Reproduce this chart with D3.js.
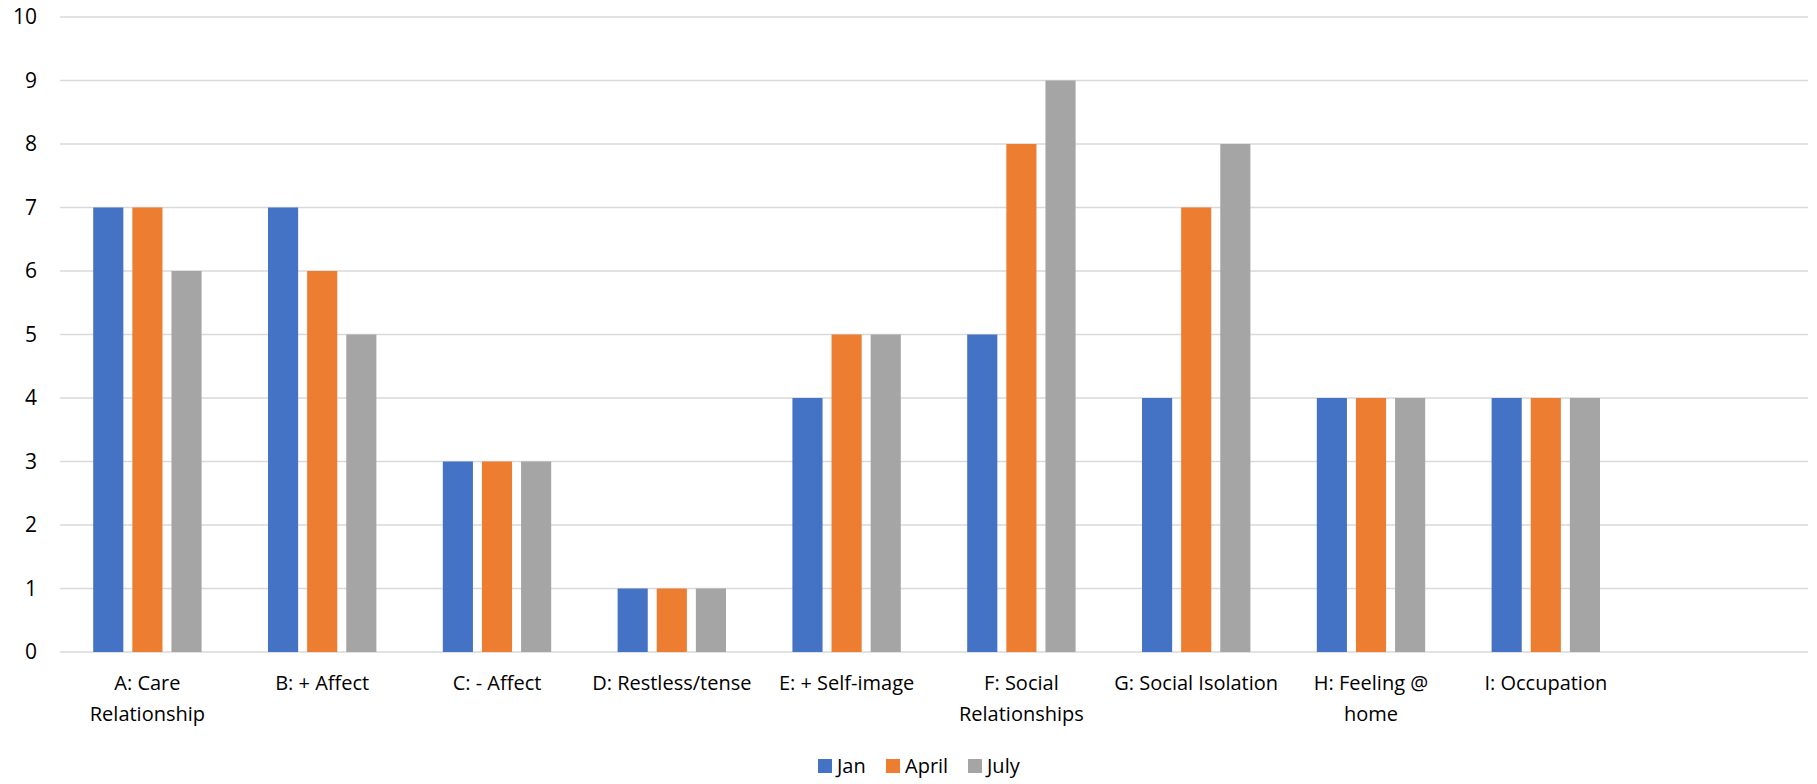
<!DOCTYPE html>
<html>
<head>
<meta charset="utf-8">
<script src="https://cdn.jsdelivr.net/npm/d3@7"></script>
<style>
  body { margin: 0; background: #fff; }
  text { font-family: "Open Sans", "Noto Sans", sans-serif; fill: #000; }
</style>
</head>
<body>
<svg width="1817" height="784"></svg>
<script>
// categories (one empty slot at the end, as in the original)
const categories = ["A", "B", "C", "D", "E", "F", "G", "H", "I", ""];
const categoryLabels = [
  ["A: Care", "Relationship"],
  ["B: + Affect"],
  ["C: - Affect"],
  ["D: Restless/tense"],
  ["E: + Self-image"],
  ["F: Social", "Relationships"],
  ["G: Social Isolation"],
  ["H: Feeling @", "home"],
  ["I: Occupation"],
  []
];
const seriesNames = ["Jan", "April", "July"];
const jan = [7, 7, 3, 1, 4, 5, 4, 4, 4];
const april = [7, 6, 3, 1, 5, 8, 7, 4, 4];
const july = [6, 5, 3, 1, 5, 9, 8, 4, 4];
const yTicks = [0, 1, 2, 3, 4, 5, 6, 7, 8, 9, 10];
const colors = ["#4472C4", "#ED7D31", "#A5A5A5"];

const series = [jan, april, july];

const svg = d3.select("svg");
const margin = { left: 60, right: 9, top: 17, bottom: 132 };
const width = +svg.attr("width");
const height = +svg.attr("height");

const x = d3.scaleBand()
  .domain(categories)
  .range([margin.left, width - margin.right])
  .paddingInner(0.38)
  .paddingOuter(0.19);

const x1 = d3.scaleBand()
  .domain(seriesNames)
  .range([0, x.bandwidth()])
  .paddingInner(0.23)
  .paddingOuter(0);

const y = d3.scaleLinear()
  .domain([0, 10])
  .range([height - margin.bottom, margin.top]);

// gridlines
svg.append("g")
  .selectAll("line")
  .data(yTicks)
  .enter().append("line")
  .attr("x1", margin.left)
  .attr("x2", width - margin.right)
  .attr("y1", d => y(d))
  .attr("y2", d => y(d))
  .style("stroke", "#d9d9d9")
  .style("stroke-width", 1.5);

// y labels
svg.append("g")
  .selectAll("text")
  .data(yTicks)
  .enter().append("text")
  .attr("x", 37)
  .attr("y", d => y(d))
  .attr("dy", "0.35em")
  .attr("text-anchor", "end")
  .attr("font-size", 21)
  .text(d => d);

// bars
const groups = svg.append("g")
  .selectAll("g")
  .data(categories.slice(0, jan.length))
  .enter().append("g")
  .attr("transform", d => `translate(${x(d)},0)`);

groups.selectAll("rect")
  .data((d, i) => series.map((s, j) => ({ name: seriesNames[j], value: s[i], color: colors[j] })))
  .enter().append("rect")
  .attr("x", d => x1(d.name))
  .attr("width", x1.bandwidth())
  .attr("y", d => y(d.value))
  .attr("height", d => y(0) - y(d.value))
  .style("fill", d => d.color);

// category labels
const labels = svg.append("g")
  .selectAll("text")
  .data(categories)
  .enter().append("text")
  .attr("text-anchor", "middle")
  .attr("font-size", 20)
  .attr("transform", d => `translate(${x(d) + x.bandwidth() / 2},690)`);

labels.selectAll("tspan")
  .data((d, i) => categoryLabels[i])
  .enter().append("tspan")
  .attr("x", 0)
  .attr("y", (d, i) => i * 31)
  .text(d => d);

// legend
const legendX = [818, 886, 968];
const legend = svg.append("g")
  .selectAll("g")
  .data(seriesNames)
  .enter().append("g")
  .attr("transform", (d, i) => `translate(${legendX[i]},759)`);

legend.append("rect")
  .attr("width", 14)
  .attr("height", 14)
  .style("fill", (d, i) => colors[i]);

legend.append("text")
  .attr("x", 19)
  .attr("y", 14)
  .attr("font-size", 20)
  .text(d => d);
</script>
</body>
</html>
